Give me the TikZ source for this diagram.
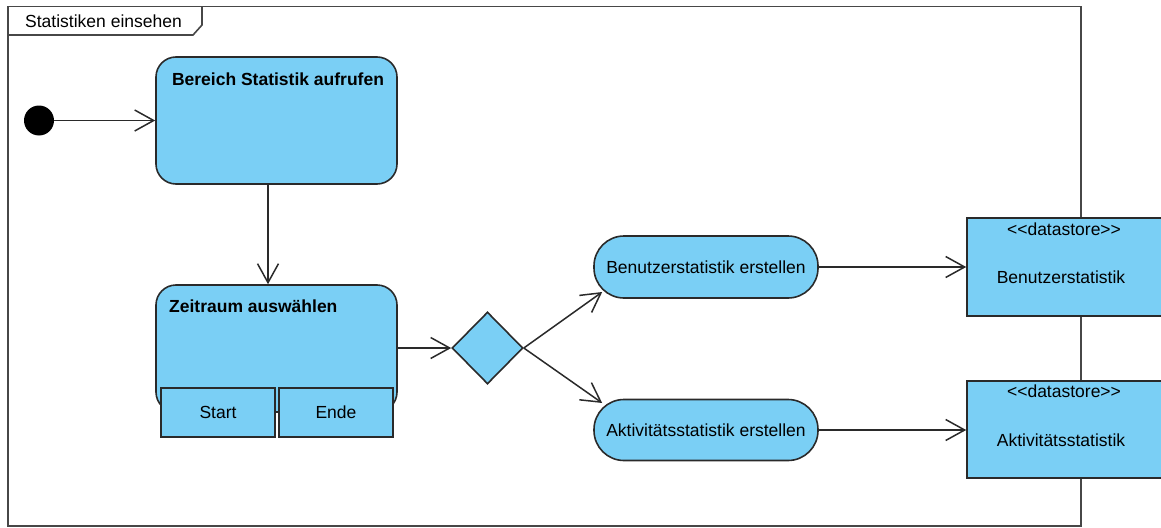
\documentclass[tikz,border=0pt]{standalone}
\usepackage{fontspec}
\setmainfont{Liberation Sans}
\usetikzlibrary{arrows.meta,calc,shapes.geometric}
\definecolor{actfill}{HTML}{7ACFF5}
\definecolor{edgecol}{HTML}{2A2A2A}
\definecolor{framecol}{HTML}{474747}
\begin{document}
\begin{tikzpicture}[x=1pt,y=-1pt,
  every node/.style={font=\fontsize{17.5}{21}\selectfont, inner sep=0pt, text=black},
  actionbox/.style={draw=edgecol, fill=actfill, line width=1.6pt, rounded corners=20pt,
    minimum width=241pt, minimum height=127pt},
  flowbox/.style={draw=edgecol, fill=actfill, line width=1.6pt, rounded corners=30pt,
    minimum width=224pt, minimum height=62pt},
  pinbox/.style={draw=edgecol, fill=actfill, line width=1.6pt,
    minimum width=114pt, minimum height=49pt},
  storebox/.style={draw=edgecol, fill=actfill, line width=1.6pt,
    minimum width=200pt, minimum height=98pt},
  decision/.style={diamond, draw=edgecol, fill=actfill, line width=1.6pt,
    minimum width=71pt, minimum height=72pt},
  flow/.style={draw=edgecol, line width=1.5pt, -{Straight Barb[length=19pt,width=21pt]}},
  framepath/.style={draw=framecol, line width=1.6pt},
]
\useasboundingbox (0,0) rectangle (1161,527);

% activity frame with its name tab
\path[framepath] (8,6.5) rectangle (1081,526);
\path[framepath] (8,35) -- (193,35) -- (202,25) -- (202,6.5);
\node[anchor=base west] (frametitle) at (25,28) {Statistiken einsehen};

% initial node
\node[circle, fill=black, minimum size=30pt] (init) at (39,120.5) {};

% actions
\node[actionbox] (ber) at (276.5,120.5) {};
\node[anchor=base, font=\fontsize{17.5}{21}\selectfont\bfseries] (bertitle) at (278,85) {Bereich Statistik aufrufen};

\node[actionbox] (zeit) at (276.5,348.5) {};
\node[anchor=base west, font=\fontsize{17.5}{21}\selectfont\bfseries] (zeittitle) at (169,312) {Zeitraum auswählen};
\node[pinbox] (start) at (218,412.5) {Start};
\node[pinbox] (ende) at (336,412.5) {Ende};

% decision
\node[decision] (dia) at (487.5,348) {};

\node[flowbox] (ben) at (706,267) {Benutzerstatistik erstellen};
\node[flowbox, minimum height=61pt] (akt) at (706,430) {Aktivitätsstatistik erstellen};

% data stores
\node[storebox] (store1) at (1067,267) {};
\node[anchor=base] (st1a) at (1064,235) {<\kern0pt<datastore>\kern0pt>};
\node[anchor=base] (st1b) at (1061,283) {Benutzerstatistik};
\node[storebox, minimum height=97pt] (store2) at (1067,429.5) {};
\node[anchor=base] (st2a) at (1064,397) {<\kern0pt<datastore>\kern0pt>};
\node[anchor=base] (st2b) at (1061,446) {Aktivitätsstatistik};

% control and object flows
\draw[flow] (init) -- (ber.west |- init);
\draw[flow] ([xshift=-8.5pt]ber.south) -- ([xshift=-8.5pt]zeit.north);
\draw[flow] (zeit.east |- dia) -- (dia.west);
\draw[flow] (dia.east) -- ([xshift=9pt,yshift=-25pt]ben.west);
\draw[flow] (dia.east) -- ([xshift=9pt,yshift=27pt]akt.west);
\draw[flow] (ben.east) -- (store1.west);
\draw[flow] (akt.east) -- (store2.west |- akt);
\end{tikzpicture}
\end{document}
